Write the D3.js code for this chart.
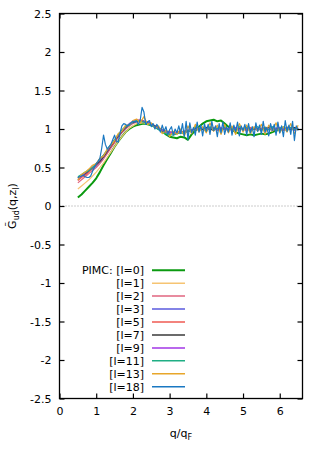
<!DOCTYPE html>
<html>
<head>
<meta charset="utf-8">
<script src="https://cdn.jsdelivr.net/npm/d3@7"></script>
<style>
  body { margin: 0; background: #fff; }
  text { font-family: "DejaVu Sans", sans-serif; font-size: 11px; }
</style>
</head>
<body>
<div id="chart"></div>
<script>
// q grid (step 0.1) shared by the PIMC curves l=0..13
var qStd = [
  0.5,0.6,0.7,0.8,0.9,1.0,1.1,1.2,1.3,1.4,
  1.5,1.6,1.7,1.8,1.9,2.0,2.1,2.2,2.3,2.4,
  2.5,2.6,2.7,2.8,2.9,3.0,3.1,3.2,3.3,3.4,
  3.5,3.6,3.7,3.8,3.9,4.0,4.1,4.2,4.3,4.4,
  4.5,4.6,4.7,4.8,4.9,5.0,5.1,5.2,5.3,5.4,
  5.5,5.6,5.7,5.8,5.9,6.0,6.1,6.2,6.3,6.4,
  6.5];

// finer q grid (step 0.05) for l=18
var qFine = [
  0.50,0.55,0.60,0.65,0.70,0.75,0.80,0.85,0.90,0.95,
  1.00,1.05,1.10,1.15,1.20,1.25,1.30,1.35,1.40,1.45,
  1.50,1.55,1.60,1.65,1.70,1.75,1.80,1.85,1.90,1.95,
  2.00,2.05,2.10,2.15,2.20,2.25,2.30,2.35,2.40,2.45,
  2.50,2.55,2.60,2.65,2.70,2.75,2.80,2.85,2.90,2.95,
  3.00,3.05,3.10,3.15,3.20,3.25,3.30,3.35,3.40,3.45,
  3.50,3.55,3.60,3.65,3.70,3.75,3.80,3.85,3.90,3.95,
  4.00,4.05,4.10,4.15,4.20,4.25,4.30,4.35,4.40,4.45,
  4.50,4.55,4.60,4.65,4.70,4.75,4.80,4.85,4.90,4.95,
  5.00,5.05,5.10,5.15,5.20,5.25,5.30,5.35,5.40,5.45,
  5.50,5.55,5.60,5.65,5.70,5.75,5.80,5.85,5.90,5.95,
  6.00,6.05,6.10,6.15,6.20,6.25,6.30,6.35,6.40,6.45,
  6.50];

var g_l0 = [
  0.11,0.15,0.20,0.25,0.30,0.36,0.44,0.53,0.61,0.69,
  0.77,0.84,0.90,0.96,1.00,1.03,1.05,1.06,1.07,1.06,
  1.05,1.03,1.00,0.97,0.93,0.90,0.89,0.88,0.90,0.89,
  0.86,0.93,0.98,1.03,1.07,1.10,1.11,1.12,1.10,1.11,
  1.07,1.03,0.99,0.96,0.94,0.93,0.92,0.93,0.92,0.93,
  0.94,0.93,0.94,0.96,0.98,0.99,1.00,1.01,1.00,1.01,
  1.00];
var g_l1 = [
  0.22,0.26,0.30,0.34,0.39,0.44,0.50,0.56,0.63,0.70,
  0.77,0.84,0.90,0.96,1.01,1.04,1.07,1.08,1.08,1.07,
  1.06,1.04,1.02,1.00,0.98,0.97,0.96,0.96,0.96,0.97,
  0.97,0.98,0.99,1.01,1.00,1.02,1.01,0.99,1.02,1.00,
  1.01,0.99,1.02,1.00,0.98,1.01,1.03,1.00,1.02,0.99,
  1.01,1.03,1.00,1.02,0.99,1.01,1.00,1.03,1.00,0.99,
  1.01];
var g_l2 = [
  0.30,0.34,0.38,0.42,0.46,0.50,0.55,0.61,0.68,0.75,
  0.82,0.89,0.95,1.00,1.04,1.07,1.09,1.10,1.09,1.08,
  1.06,1.03,1.00,0.98,0.97,0.96,0.95,0.96,0.95,0.97,
  0.98,0.99,1.00,1.01,1.00,1.02,1.00,1.01,0.99,1.00,
  1.01,0.99,1.00,1.02,0.99,1.00,0.98,1.01,1.00,0.99,
  1.01,1.00,0.99,1.01,1.00,0.98,1.01,1.00,1.02,0.99,
  1.00];
var g_l3 = [
  0.34,0.38,0.41,0.45,0.48,0.52,0.57,0.63,0.70,0.77,
  0.84,0.90,0.96,1.01,1.05,1.08,1.10,1.11,1.10,1.09,
  1.07,1.04,1.01,0.99,0.97,0.96,0.95,0.95,0.96,0.96,
  0.97,0.99,1.00,0.99,1.01,1.00,1.02,0.99,1.00,1.01,
  0.99,1.00,1.02,0.99,1.00,1.01,0.99,1.00,1.01,0.98,
  1.00,1.02,0.99,1.00,1.01,0.99,1.00,1.02,0.99,1.01,
  0.99];
var g_l5 = [
  0.33,0.37,0.40,0.44,0.49,0.53,0.58,0.64,0.70,0.77,
  0.83,0.90,0.96,1.02,1.05,1.09,1.11,1.12,1.10,1.09,
  1.06,1.04,1.00,0.98,0.96,0.95,0.96,0.94,0.96,0.97,
  0.96,0.99,1.01,0.98,1.02,1.00,0.99,1.02,0.98,1.01,
  1.00,0.98,1.02,1.00,0.99,1.01,0.98,1.02,0.99,1.00,
  1.01,0.98,1.02,0.99,1.00,1.01,0.98,1.00,1.02,0.99,
  1.01];
var g_l7 = [
  0.36,0.40,0.42,0.46,0.50,0.54,0.58,0.64,0.71,0.78,
  0.85,0.91,0.97,1.02,1.06,1.09,1.10,1.11,1.10,1.08,
  1.07,1.04,1.01,0.98,0.97,0.95,0.96,0.95,0.97,0.96,
  0.98,0.98,1.01,1.00,0.99,1.02,1.00,0.98,1.01,1.00,
  1.02,0.99,1.00,0.98,1.01,1.00,1.02,0.99,1.00,1.01,
  0.99,1.00,1.02,0.98,1.01,1.00,0.99,1.01,1.00,1.02,
  1.00];
var g_l9 = [
  0.37,0.39,0.43,0.47,0.50,0.55,0.60,0.66,0.72,0.79,
  0.86,0.92,0.98,1.03,1.07,1.10,1.12,1.11,1.10,1.09,
  1.06,1.03,1.01,0.98,0.96,0.96,0.94,0.96,0.95,0.97,
  0.99,0.97,1.02,0.99,1.01,0.98,1.02,1.00,0.99,1.02,
  0.99,1.01,0.98,1.02,1.00,0.99,1.01,0.98,1.02,1.00,
  0.99,1.02,1.00,0.98,1.01,1.02,0.99,1.00,1.01,0.98,
  1.02];
var g_l11 = [
  0.38,0.41,0.44,0.46,0.50,0.55,0.61,0.66,0.73,0.80,
  0.86,0.93,0.99,1.03,1.06,1.09,1.11,1.10,1.09,1.07,
  1.05,1.02,0.99,0.96,0.94,0.93,0.92,0.94,0.95,0.94,
  0.98,0.96,1.03,0.98,1.02,0.97,1.03,0.99,1.01,0.97,
  1.03,0.98,1.01,0.97,1.03,0.99,1.02,0.97,1.01,1.03,
  0.98,1.02,0.99,1.03,0.97,1.01,1.03,0.98,1.02,0.99,
  1.01];
var g_l13 = [
  0.34,0.41,0.44,0.48,0.53,0.55,0.62,0.65,0.74,0.79,
  0.85,0.94,0.97,1.05,1.04,1.11,1.13,1.08,1.16,1.06,
  1.08,1.01,1.04,0.94,0.98,0.90,0.97,0.93,1.00,0.91,
  1.04,0.94,1.06,0.96,1.03,0.95,1.08,0.97,1.05,0.93,
  1.06,0.95,1.04,0.93,1.07,0.96,1.05,0.94,1.03,0.97,
  1.06,0.93,1.05,0.97,1.08,0.95,1.03,0.96,1.07,0.94,
  1.05];
var g_l18 = [
  0.37,0.38,0.39,0.40,0.38,0.37,0.37,0.39,0.45,0.50,
  0.55,0.58,0.62,0.75,0.92,0.80,0.74,0.77,0.80,0.86,
  0.92,0.84,0.83,0.95,1.04,1.07,1.06,1.04,1.05,1.08,
  1.10,1.09,1.10,1.06,1.12,1.28,1.22,1.06,1.09,1.11,
  1.03,1.07,1.00,1.06,1.02,0.96,1.05,0.97,1.03,0.92,
  0.99,1.03,0.92,1.00,0.95,1.04,0.94,1.07,0.90,1.10,
  0.86,1.08,0.95,1.02,0.92,1.09,0.96,1.05,0.91,1.07,
  0.97,1.06,0.93,1.10,0.98,1.04,0.90,1.07,0.95,1.09,
  0.93,1.03,0.96,1.08,0.92,1.05,0.97,1.09,0.91,1.04,
  0.98,1.06,0.92,1.07,0.95,1.03,0.90,1.08,0.97,1.05,
  0.93,1.10,0.96,1.02,0.91,1.07,0.98,1.06,0.92,1.09,
  0.95,1.04,0.90,1.11,0.97,1.05,0.93,1.10,0.85,1.04,
  0.98];

var labels = ["PIMC: [l=0]","[l=1]","[l=2]","[l=3]","[l=5]","[l=7]","[l=9]","[l=11]","[l=13]","[l=18]"];
var colors = ["#0b9a10","#f6c472","#e0657f","#5a5ade","#ef5a52","#3a3a3a","#a236e6","#1fae84","#e8a62a","#1a78c2"];
var yTicks = [-2.5,-2,-1.5,-1,-0.5,0,0.5,1,1.5,2,2.5];
var xTicks = [0,1,2,3,4,5,6];

var series = [
  {q: qStd, v: g_l0}, {q: qStd, v: g_l1}, {q: qStd, v: g_l2}, {q: qStd, v: g_l3},
  {q: qStd, v: g_l5}, {q: qStd, v: g_l7}, {q: qStd, v: g_l9}, {q: qStd, v: g_l11},
  {q: qStd, v: g_l13}, {q: qFine, v: g_l18}
];

var W = 324, H = 453;
var margin = {top: 13.5, right: 21.5, bottom: 54.5, left: 59.5};
var width = W - margin.left - margin.right,
    height = H - margin.top - margin.bottom;

var x = d3.scaleLinear().domain([0, 6.62]).range([0, width]);
var y = d3.scaleLinear().domain([-2.5, 2.5]).range([height, 0]);

var svg = d3.select("#chart").append("svg")
  .attr("width", W).attr("height", H)
  .append("g")
  .attr("transform", "translate(" + margin.left + "," + margin.top + ")");

// zero line
svg.append("line")
  .attr("x1", 0).attr("x2", width)
  .attr("y1", y(0)).attr("y2", y(0))
  .attr("stroke", "#999").attr("stroke-width", 1)
  .attr("stroke-dasharray", "1,2");

var clip = svg.append("clipPath").attr("id", "clip")
  .append("rect").attr("width", width).attr("height", height);

var line = d3.line()
  .x(function(d) { return x(d[0]); })
  .y(function(d) { return y(d[1]); });

var plot = svg.append("g").attr("clip-path", "url(#clip)");
series.forEach(function(s, i) {
  var pts = s.v.map(function(v, j) { return [s.q[j], v]; });
  plot.append("path")
    .datum(pts)
    .attr("d", line)
    .attr("fill", "none")
    .attr("stroke", colors[i])
    .attr("stroke-width", i == 0 ? 2 : 1.2)
    .attr("stroke-linejoin", "round");
});

// axes, ticks pointing inward
var fmt = function(d) { return String(d); };
var ax = svg.append("g").attr("transform", "translate(0," + height + ")")
  .call(d3.axisBottom(x).tickValues(xTicks).tickFormat(fmt).tickSize(-5).tickPadding(9));
svg.append("g")
  .call(d3.axisTop(x).tickValues(xTicks).tickFormat("").tickSize(-5));
var ay = svg.append("g")
  .call(d3.axisLeft(y).tickValues(yTicks).tickFormat(fmt).tickSize(-5).tickPadding(8));
svg.append("g").attr("transform", "translate(" + width + ",0)")
  .call(d3.axisRight(y).tickValues(yTicks).tickFormat("").tickSize(-5));
svg.selectAll(".domain").remove();
svg.selectAll(".tick line").attr("stroke", "#000").attr("stroke-width", 1.2);
svg.selectAll(".tick text").attr("fill", "#000").style("font-size", "11px")
  .style("font-family", "'DejaVu Sans', sans-serif");

svg.append("rect")
  .attr("width", width).attr("height", height)
  .attr("fill", "none").attr("stroke", "#000").attr("stroke-width", 1.3);

// axis labels
var xl = svg.append("text")
  .attr("x", width / 2).attr("y", height + 38)
  .attr("text-anchor", "middle");
xl.append("tspan").text("q/q");
xl.append("tspan").text("F").attr("dy", 3).style("font-size", "8px");

var yl = svg.append("text")
  .attr("transform", "translate(" + (-44) + "," + (height / 2) + ") rotate(-90)")
  .attr("text-anchor", "middle");
yl.append("tspan").text("G\u0303");
yl.append("tspan").text("ud").attr("dy", 3).style("font-size", "8px");
yl.append("tspan").text("(q,z").attr("dy", -3);
yl.append("tspan").text("l").attr("dy", 3).style("font-size", "8px");
yl.append("tspan").text(")").attr("dy", -3);

// legend
var legend = svg.append("g").attr("transform", "translate(" + (144 - margin.left) + "," + (270.2 - margin.top) + ")");
labels.forEach(function(lab, i) {
  var row = legend.append("g").attr("transform", "translate(0," + (i * 12.95) + ")");
  row.append("text").attr("x", 0).attr("y", 4).attr("text-anchor", "end")
    .attr("fill", "#000").text(lab);
  row.append("line").attr("x1", 8).attr("x2", 41).attr("y1", 0).attr("y2", 0)
    .attr("stroke", colors[i]).attr("stroke-width", i == 0 ? 2 : 1.5);
});
</script>
</body>
</html>
